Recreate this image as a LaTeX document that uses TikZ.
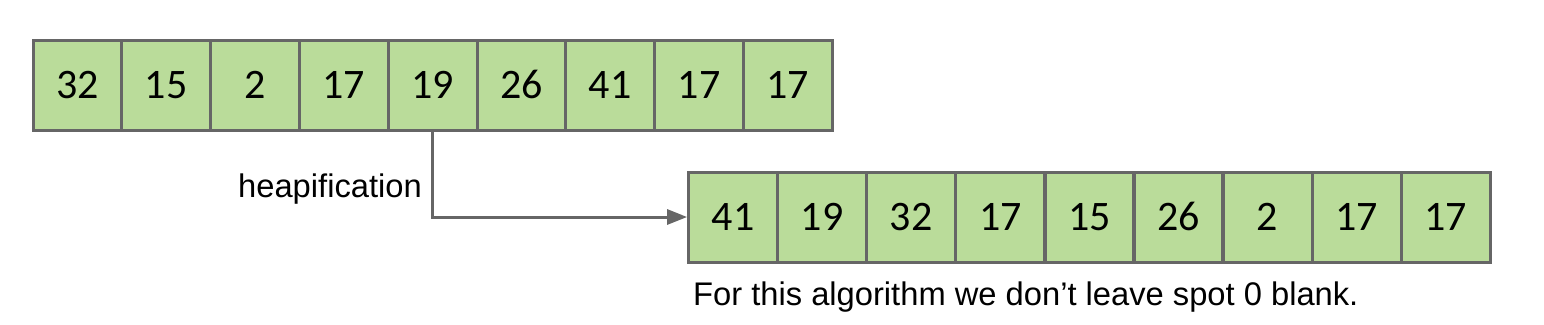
\documentclass[tikz,border=0pt]{standalone}
\usepackage{fontspec}
\setmainfont{Liberation Sans}
\newfontfamily\numfont[Numbers=Lining]{Carlito}
\usetikzlibrary{arrows.meta}
\definecolor{cellfill}{HTML}{BADC9A}
\definecolor{cellline}{HTML}{666666}
\tikzset{
  cell/.style={draw=cellline, fill=cellfill, line width=3pt, minimum width=88.8pt, minimum height=90pt, inner sep=0pt, text height=27pt, text depth=0pt, font=\numfont\fontsize{42}{42}\selectfont},
  lbl/.style={font=\fontsize{32.7}{33}\selectfont, inner sep=0pt},
  conn/.style={draw=cellline, line width=3pt, -{Triangle[length=20pt,width=15pt]}}
}
\begin{document}
\begin{tikzpicture}[x=1pt,y=-1pt]
\useasboundingbox (0,0) rectangle (1544,324);
\foreach \v [count=\i from 0] in {32,15,2,17,19,26,41,17,17} {
  \node[cell] (a\i) at (33+44.4+\i*88.8, 85) {\v};
}
\foreach \v [count=\i from 0] in {41,19,32,17,15,26,2,17,17} {
  \node[cell] (b\i) at (688.5+44.5+\i*89.1, 217) {\v};
}
\coordinate (bend) at (a4.south |- b0.west);
\draw[conn] (a4.south) -- (bend) -- (b0.west);
\node[lbl, anchor=base east] (h) at (422,197) {heapification};
\node[lbl, anchor=base west] (note) at (693,305) {For this algorithm we don’t leave spot 0 blank.};
\end{tikzpicture}
\end{document}
